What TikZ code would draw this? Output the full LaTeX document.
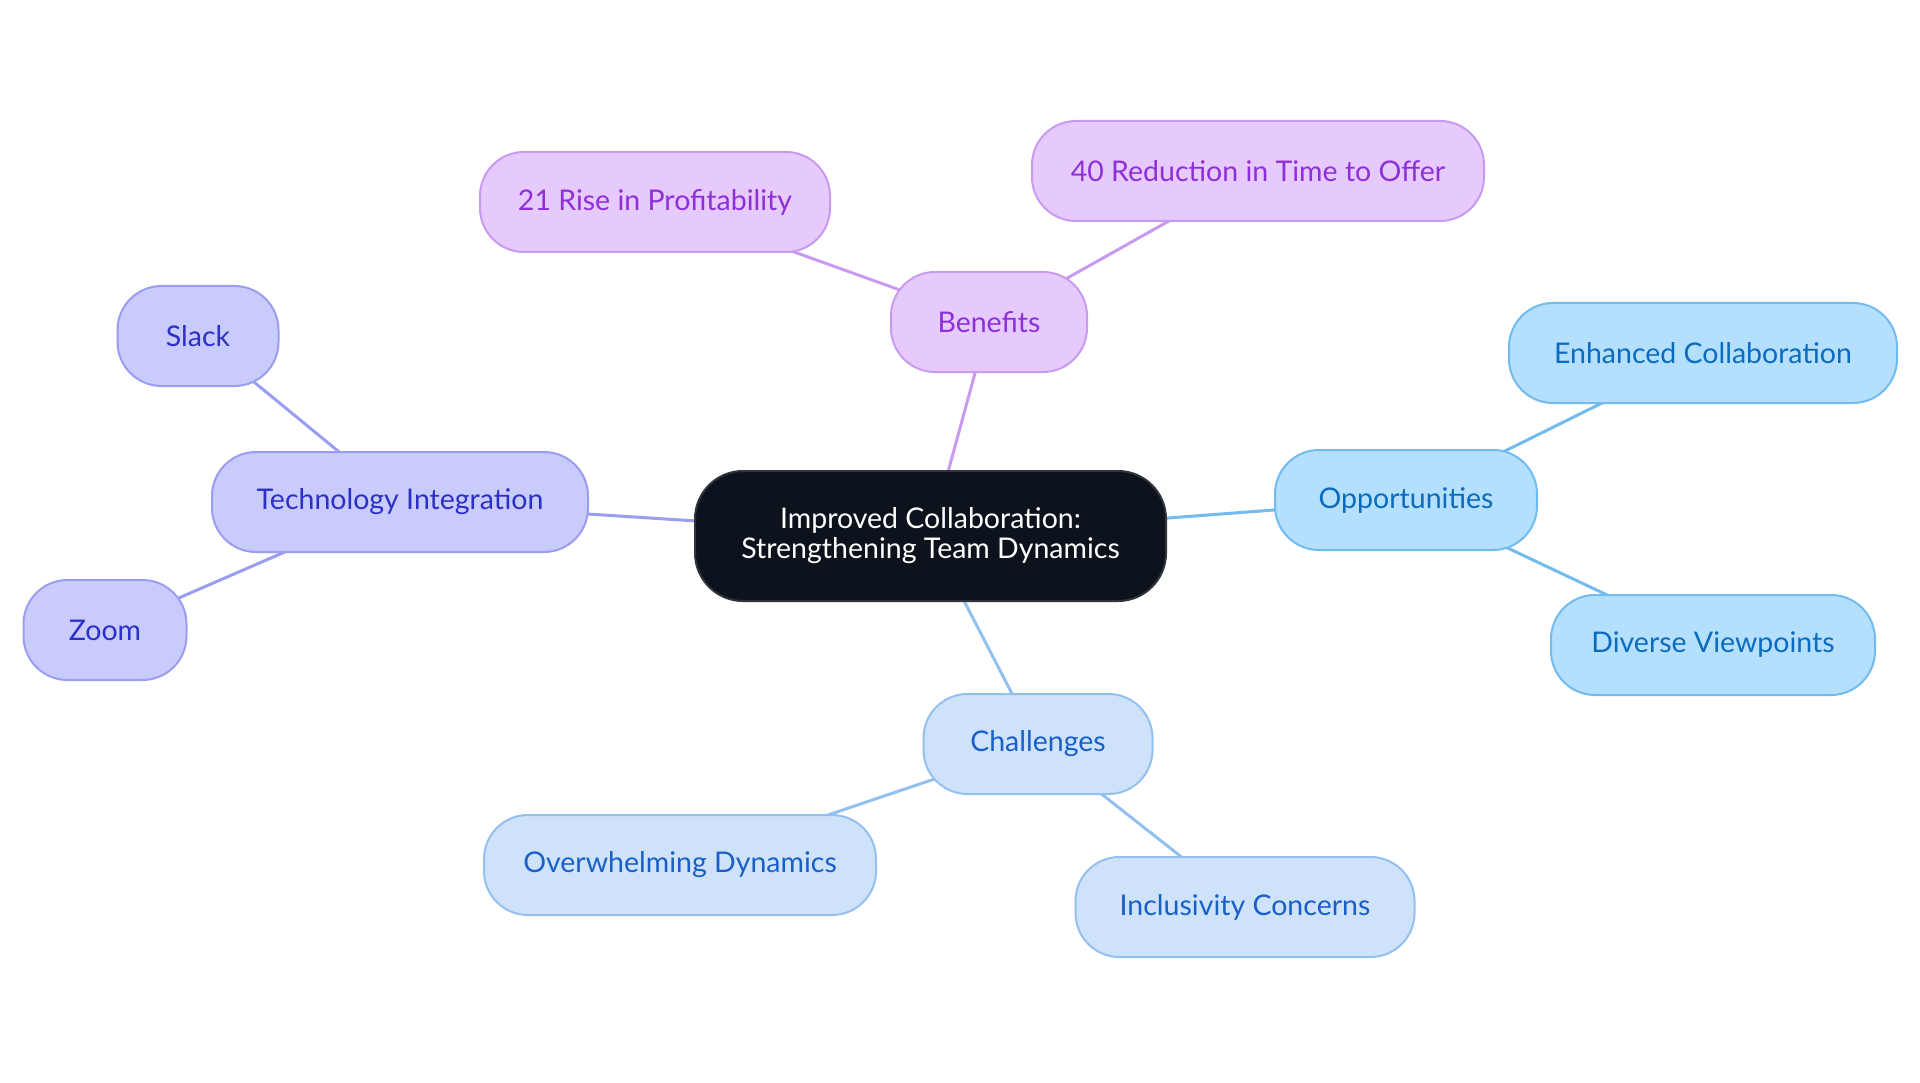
\documentclass[tikz,border=0pt]{standalone}
\usepackage{fontspec}
\setmainfont{Lato}
\usetikzlibrary{backgrounds}
\definecolor{pfill}{HTML}{E6CAFE}
\definecolor{pdraw}{HTML}{C99BF0}
\definecolor{ptext}{HTML}{8E2FD8}
\definecolor{lfill}{HTML}{C8CBFB}
\definecolor{ldraw}{HTML}{9A9EF0}
\definecolor{ltext}{HTML}{2D30C6}
\definecolor{bfill}{HTML}{B4E0FD}
\definecolor{bdraw}{HTML}{72BBEE}
\definecolor{btext}{HTML}{0B6BBF}
\definecolor{cfill}{HTML}{CEE3FA}
\definecolor{cdraw}{HTML}{94C0F0}
\definecolor{ctext}{HTML}{1A5FC8}
\definecolor{mfill}{HTML}{0D131C}
\definecolor{mdraw}{HTML}{30353C}
\tikzset{
  box/.style={rectangle, rounded corners=44pt, line width=2pt, inner sep=0pt,
    minimum height=100pt, align=center, font=\fontsize{28.5}{30}\selectfont},
  pbox/.style={box, fill=pfill, draw=pdraw, text=ptext},
  lbox/.style={box, fill=lfill, draw=ldraw, text=ltext},
  bbox/.style={box, fill=bfill, draw=bdraw, text=btext},
  cbox/.style={box, fill=cfill, draw=cdraw, text=ctext},
  mbox/.style={box, fill=mfill, draw=mdraw, text=white, rounded corners=48pt},
  pline/.style={line width=3pt, draw=pdraw},
  lline/.style={line width=3pt, draw=ldraw},
  bline/.style={line width=3pt, draw=bdraw},
  cline/.style={line width=3pt, draw=cdraw},
}
\begin{document}
\begin{tikzpicture}[x=1pt,y=-1pt]
\useasboundingbox (0,0) rectangle (1920,1083);
\node[mbox, minimum width=471pt, minimum height=130pt] (m) at (930.5,536) {Improved Collaboration:\\Strengthening Team Dynamics};
\node[pbox, minimum width=196pt] (ben) at (989,322) {Benefits};
\node[pbox, minimum width=350pt] (rise) at (655,202) {21 Rise in Profitability};
\node[pbox, minimum width=452pt] (red) at (1258,171) {40 Reduction in Time to Offer};
\node[lbox, minimum width=376pt] (tech) at (400,502) {Technology Integration};
\node[lbox, minimum width=161pt] (slack) at (198,336) {Slack};
\node[lbox, minimum width=163pt] (zoom) at (105,630) {Zoom};
\node[bbox, minimum width=262pt] (opp) at (1406,500) {Opportunities};
\node[bbox, minimum width=388pt] (enh) at (1703,353) {Enhanced Collaboration};
\node[bbox, minimum width=324pt] (div) at (1713,645) {Diverse Viewpoints};
\node[cbox, minimum width=229pt] (cha) at (1038,744) {Challenges};
\node[cbox, minimum width=392pt] (over) at (680,865) {Overwhelming Dynamics};
\node[cbox, minimum width=339pt] (incl) at (1245,907) {Inclusivity Concerns};
\begin{scope}[on background layer]
\fill[white] (0,0) rectangle (1920,1083);
\draw[pline] (m.center) -- (ben.center);
\draw[pline] (ben.center) -- (rise.center);
\draw[pline] (ben.center) -- (red.center);
\draw[lline] (m.center) -- (tech.center);
\draw[lline] (tech.center) -- (slack.center);
\draw[lline] (tech.center) -- (zoom.center);
\draw[bline] (m.center) -- (opp.center);
\draw[bline] (opp.center) -- (enh.center);
\draw[bline] (opp.center) -- (div.center);
\draw[cline] (m.center) -- (cha.center);
\draw[cline] (cha.center) -- (over.center);
\draw[cline] (cha.center) -- (incl.center);
\end{scope}
\end{tikzpicture}
\end{document}
